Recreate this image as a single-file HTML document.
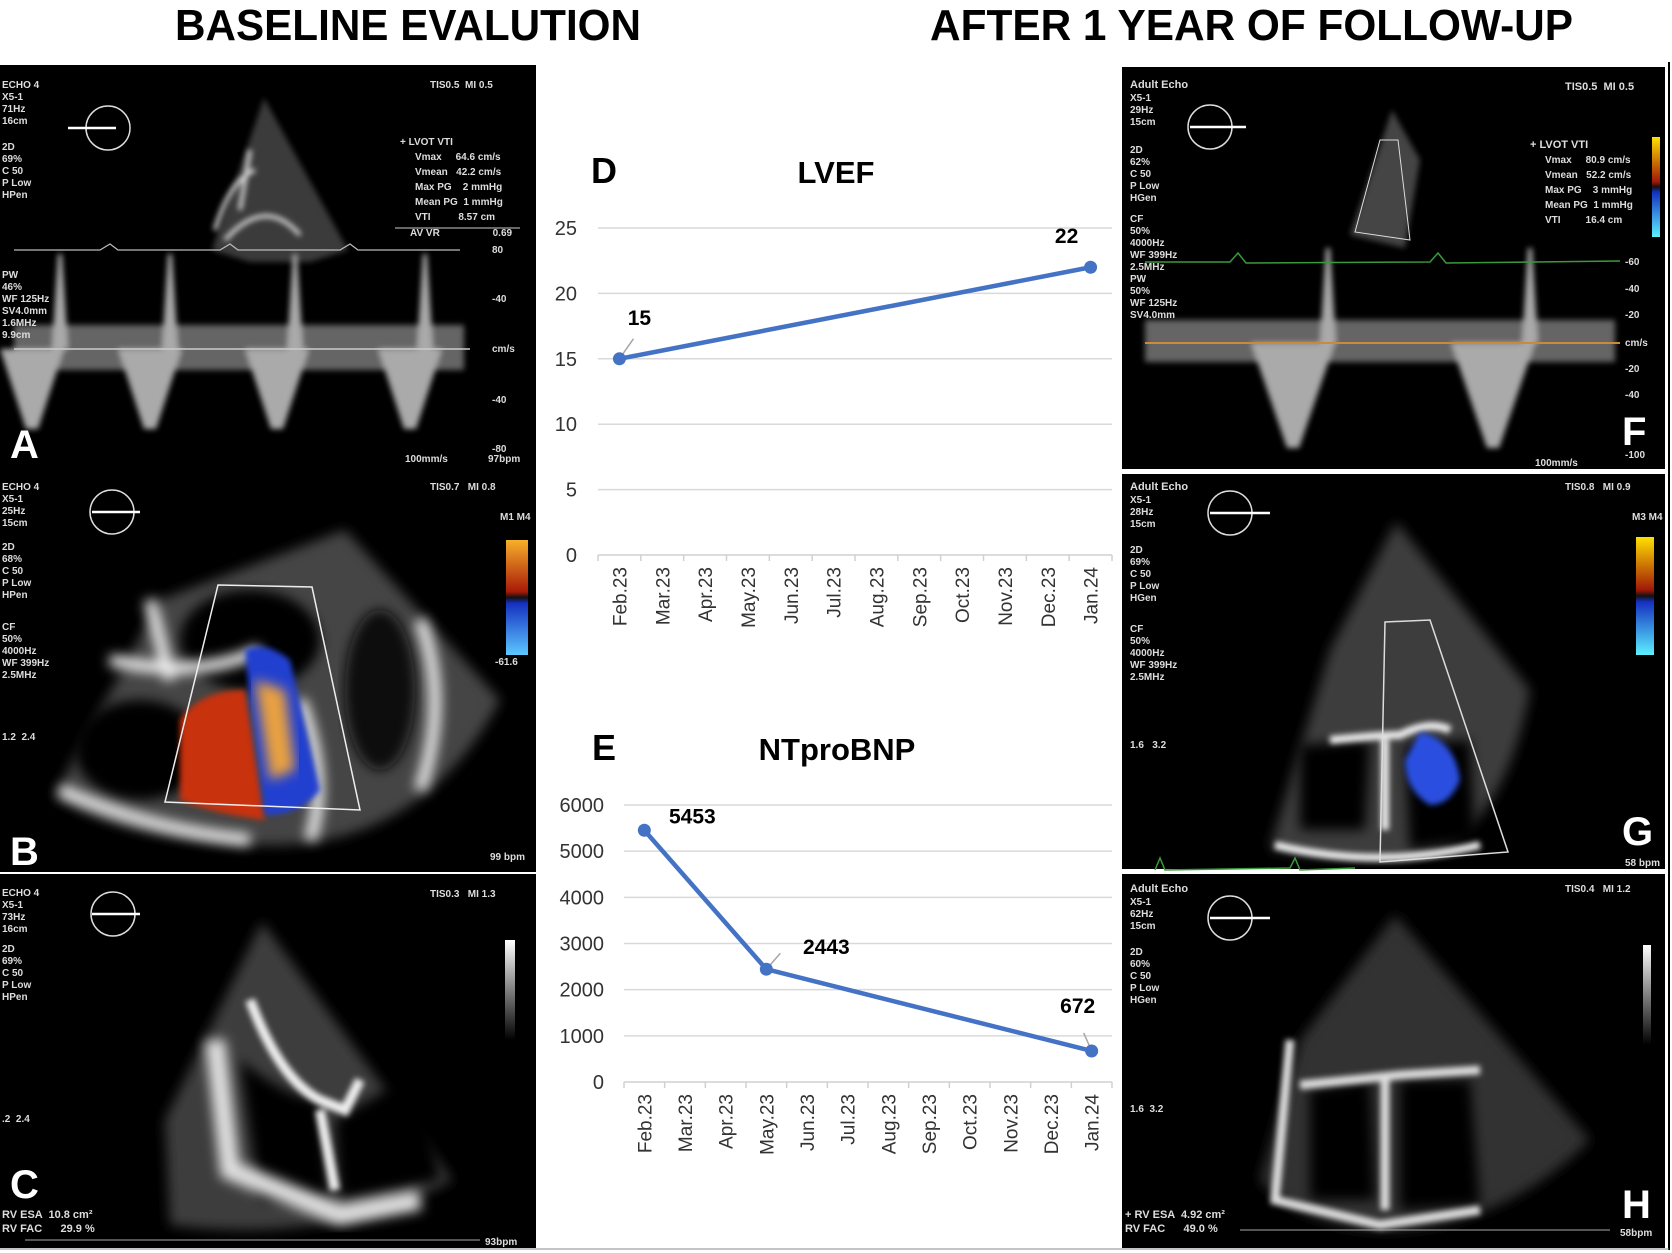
<!DOCTYPE html>
<html><head><meta charset="utf-8"><style>
html,body{margin:0;padding:0;background:#fff}
svg{display:block}
text{font-family:"Liberation Sans",sans-serif;white-space:pre}
</style></head><body>
<svg id="fig" width="1672" height="1253" viewBox="0 0 1672 1253" xmlns="http://www.w3.org/2000/svg" xml:space="preserve">
<defs>
<filter id="blur3"><feGaussianBlur stdDeviation="3"/></filter>
<filter id="blur6"><feGaussianBlur stdDeviation="6"/></filter>
<filter id="blur10"><feGaussianBlur stdDeviation="10"/></filter>
<linearGradient id="cbar1" x1="0" y1="0" x2="0" y2="1"><stop offset="0" stop-color="#f7b02a"/><stop offset="0.45" stop-color="#a81a08"/><stop offset="0.5" stop-color="#111"/><stop offset="0.55" stop-color="#1530c0"/><stop offset="1" stop-color="#5cc8ff"/></linearGradient>
<linearGradient id="cbar2" x1="0" y1="0" x2="0" y2="1"><stop offset="0" stop-color="#ffe000"/><stop offset="0.45" stop-color="#a01808"/><stop offset="0.5" stop-color="#111"/><stop offset="0.55" stop-color="#1530c0"/><stop offset="1" stop-color="#5cf0ff"/></linearGradient>
<linearGradient id="gbar" x1="0" y1="0" x2="0" y2="1"><stop offset="0" stop-color="#fff"/><stop offset="1" stop-color="#000"/></linearGradient>
</defs>
<rect width="1672" height="1253" fill="#fff"/>
<text x="175" y="40" font-size="44" font-weight="bold" textLength="466" lengthAdjust="spacingAndGlyphs">BASELINE EVALUTION</text>
<text x="930" y="40" font-size="44" font-weight="bold" textLength="643" lengthAdjust="spacingAndGlyphs">AFTER 1 YEAR OF FOLLOW-UP</text>

<!-- Panel A -->
<g>
<rect x="0" y="65" width="536" height="405" fill="#000"/>
<polygon points="264,98 212,250 250,262 310,262 348,250" fill="#3a3a3a" filter="url(#blur3)"/>
<path d="M225,240 Q265,195 300,235 M250,150 L240,210 M215,230 Q230,180 255,170" stroke="#ddd" stroke-width="4" fill="none" filter="url(#blur3)"/>
<g id="dopA" fill="#c8c8c8" filter="url(#blur3)" opacity="0.85"></g>
<line x1="14" y1="349" x2="470" y2="349" stroke="#ccc" stroke-width="1.5"/>
<polyline points="14,250 100,250 110,244 118,250 220,250 230,244 238,250 340,250 350,244 358,250 460,250" stroke="#bbb" fill="none" stroke-width="1.2"/>
<circle cx="108" cy="128" r="22" stroke="#ddd" fill="none" stroke-width="1.5"/><line x1="68" y1="128" x2="116" y2="128" stroke="#fff" stroke-width="2.5"/>
<g fill="#ddd" font-size="10" font-weight="bold">
<text x="2" y="88">ECHO 4</text><text x="2" y="100">X5-1</text><text x="2" y="112">71Hz</text><text x="2" y="124">16cm</text>
<text x="2" y="150">2D</text><text x="2" y="162">69%</text><text x="2" y="174">C 50</text><text x="2" y="186">P Low</text><text x="2" y="198">HPen</text>
<text x="2" y="278">PW</text><text x="2" y="290">46%</text><text x="2" y="302">WF 125Hz</text><text x="2" y="314">SV4.0mm</text><text x="2" y="326">1.6MHz</text><text x="2" y="338">9.9cm</text>
<text x="430" y="88">TIS0.5  MI 0.5</text>
<text x="400" y="145">+ LVOT VTI</text>
<text x="415" y="160">Vmax     64.6 cm/s</text><text x="415" y="175">Vmean   42.2 cm/s</text><text x="415" y="190">Max PG    2 mmHg</text><text x="415" y="205">Mean PG  1 mmHg</text><text x="415" y="220">VTI          8.57 cm</text><text x="410" y="236">AV VR                   0.69</text>
<text x="492" y="253">80</text><text x="492" y="302">-40</text><text x="492" y="352">cm/s</text><text x="492" y="403">-40</text><text x="492" y="452">-80</text>
<text x="405" y="462">100mm/s</text><text x="488" y="462">97bpm</text>
</g>
<line x1="395" y1="228" x2="520" y2="228" stroke="#ccc"/>
<text x="10" y="458" fill="#fff" font-size="40" font-weight="bold">A</text>
</g>

<!-- Panel B -->
<g>
<rect x="0" y="470" width="536" height="402" fill="#000"/>
<path d="M345,530 L500,700 Q420,850 260,845 Q120,840 55,795 L160,600 Z" fill="#444" filter="url(#blur6)"/>
<ellipse cx="140" cy="750" rx="65" ry="50" fill="#000" filter="url(#blur6)"/>
<ellipse cx="250" cy="640" rx="70" ry="50" fill="#000" filter="url(#blur6)"/>
<ellipse cx="380" cy="690" rx="35" ry="80" fill="#111" filter="url(#blur6)"/>
<path d="M110,660 Q200,680 260,650 M150,600 L170,680 M300,700 Q330,780 310,840 M60,790 Q150,830 250,840 M420,620 Q450,700 420,790" stroke="#eee" stroke-width="12" fill="none" filter="url(#blur6)"/>
<path d="M180,720 Q200,690 245,690 L265,820 Q220,815 180,800 Z" fill="#c8320c" filter="url(#blur3)"/>
<path d="M245,650 Q265,640 290,660 L320,790 Q300,815 265,815 L250,700 Z" fill="#2240d0" filter="url(#blur3)"/>
<path d="M255,680 L285,690 L295,770 L270,780 Z" fill="#e8a040" filter="url(#blur6)"/>
<polygon points="218,585 312,587 360,810 165,802" stroke="#eee" fill="none" stroke-width="1.5"/>
<rect x="506" y="540" width="22" height="115" fill="url(#cbar1)"/>
<circle cx="112" cy="512" r="22" stroke="#ddd" fill="none" stroke-width="1.5"/><line x1="92" y1="512" x2="140" y2="512" stroke="#fff" stroke-width="2.5"/>
<g fill="#ddd" font-size="10" font-weight="bold">
<text x="2" y="490">ECHO 4</text><text x="2" y="502">X5-1</text><text x="2" y="514">25Hz</text><text x="2" y="526">15cm</text>
<text x="2" y="550">2D</text><text x="2" y="562">68%</text><text x="2" y="574">C 50</text><text x="2" y="586">P Low</text><text x="2" y="598">HPen</text>
<text x="2" y="630">CF</text><text x="2" y="642">50%</text><text x="2" y="654">4000Hz</text><text x="2" y="666">WF 399Hz</text><text x="2" y="678">2.5MHz</text>
<text x="2" y="740">1.2  2.4</text>
<text x="430" y="490">TIS0.7   MI 0.8</text><text x="500" y="520">M1 M4</text><text x="495" y="665">-61.6</text>
<text x="490" y="860">99 bpm</text>
</g>
<text x="10" y="865" fill="#fff" font-size="40" font-weight="bold">B</text>
</g>

<!-- Panel C -->
<g>
<rect x="0" y="874" width="536" height="374" fill="#000"/>
<path d="M262,922 L452,1180 Q330,1245 170,1225 L165,1120 Z" fill="#3c3c3c" filter="url(#blur6)"/>
<path d="M240,1060 Q290,1100 320,1100 L330,1200 L260,1200 Z M335,1120 L420,1070 L440,1180 L340,1200 Z" fill="#000" filter="url(#blur6)"/>
<path d="M250,1000 Q280,1080 320,1100 L345,1110 L360,1080 M320,1110 L335,1190" stroke="#eee" stroke-width="10" fill="none" filter="url(#blur3)"/>
<path d="M215,1040 L230,1170 L340,1215 L420,1200" stroke="#e0e0e0" stroke-width="20" fill="none" filter="url(#blur6)"/>
<rect x="505" y="940" width="10" height="100" fill="url(#gbar)"/>
<circle cx="113" cy="914" r="22" stroke="#ddd" fill="none" stroke-width="1.5"/><line x1="92" y1="914" x2="140" y2="914" stroke="#fff" stroke-width="2.5"/>
<g fill="#ddd" font-size="10" font-weight="bold">
<text x="2" y="896">ECHO 4</text><text x="2" y="908">X5-1</text><text x="2" y="920">73Hz</text><text x="2" y="932">16cm</text>
<text x="2" y="952">2D</text><text x="2" y="964">69%</text><text x="2" y="976">C 50</text><text x="2" y="988">P Low</text><text x="2" y="1000">HPen</text>
<text x="2" y="1122">.2  2.4</text>
<text x="430" y="897">TIS0.3   MI 1.3</text>
<text x="2" y="1218" font-size="11">RV ESA  10.8 cm²</text><text x="2" y="1232" font-size="11">RV FAC      29.9 %</text>
<text x="485" y="1245">93bpm</text>
</g>
<polyline points="25,1240 480,1240" stroke="#aaa" stroke-width="1"/>
<text x="10" y="1198" fill="#fff" font-size="40" font-weight="bold">C</text>
</g>

<!-- Panel F -->
<g>
<rect x="1122" y="67" width="543" height="402" fill="#000"/>
<polygon points="1392,110 1350,235 1405,248 1420,160" fill="#444" filter="url(#blur3)"/>
<polygon points="1380,140 1398,140 1410,240 1355,232" stroke="#ddd" fill="none"/>
<g id="dopF" fill="#c8c8c8" filter="url(#blur3)" opacity="0.85"></g>
<line x1="1145" y1="343" x2="1620" y2="343" stroke="#c98a3a" stroke-width="2"/>
<polyline points="1145,262 1230,262 1238,253 1246,263 1430,262 1438,253 1446,263 1620,261" stroke="#3a9a3a" fill="none" stroke-width="1.5"/>
<circle cx="1210" cy="127" r="22" stroke="#ddd" fill="none" stroke-width="1.5"/><line x1="1190" y1="127" x2="1246" y2="127" stroke="#fff" stroke-width="2.5"/>
<rect x="1652" y="137" width="8" height="100" fill="url(#cbar2)"/>
<g fill="#ddd" font-size="10" font-weight="bold">
<text x="1130" y="88" font-size="11">Adult Echo</text><text x="1130" y="101">X5-1</text><text x="1130" y="113">29Hz</text><text x="1130" y="125">15cm</text>
<text x="1130" y="153">2D</text><text x="1130" y="165">62%</text><text x="1130" y="177">C 50</text><text x="1130" y="189">P Low</text><text x="1130" y="201">HGen</text>
<text x="1130" y="222">CF</text><text x="1130" y="234">50%</text><text x="1130" y="246">4000Hz</text><text x="1130" y="258">WF 399Hz</text><text x="1130" y="270">2.5MHz</text>
<text x="1130" y="282">PW</text><text x="1130" y="294">50%</text><text x="1130" y="306">WF 125Hz</text><text x="1130" y="318">SV4.0mm</text>
<text x="1565" y="90" font-size="11">TIS0.5  MI 0.5</text>
<text x="1530" y="148" font-size="11">+ LVOT VTI</text>
<text x="1545" y="163">Vmax     80.9 cm/s</text><text x="1545" y="178">Vmean   52.2 cm/s</text><text x="1545" y="193">Max PG    3 mmHg</text><text x="1545" y="208">Mean PG  1 mmHg</text><text x="1545" y="223">VTI         16.4 cm</text>
<text x="1625" y="265">-60</text><text x="1625" y="292">-40</text><text x="1625" y="318">-20</text><text x="1625" y="346">cm/s</text><text x="1625" y="372">-20</text><text x="1625" y="398">-40</text><text x="1625" y="458">-100</text>
<text x="1535" y="466">100mm/s</text>
</g>
<text x="1622" y="445" fill="#fff" font-size="40" font-weight="bold">F</text>
</g>

<!-- Panel G -->
<g>
<rect x="1122" y="474" width="543" height="395" fill="#000"/>
<path d="M1396,522 L1530,690 Q1500,850 1400,858 Q1320,860 1270,848 L1330,650 Z" fill="#3c3c3c" filter="url(#blur6)"/>
<path d="M1300,745 L1370,740 L1365,830 L1300,830 Z M1405,745 L1470,740 L1475,840 L1410,850 Z" fill="#000" filter="url(#blur6)"/>
<path d="M1330,740 Q1380,735 1400,735 Q1430,720 1450,730 M1385,740 L1385,830 M1275,845 Q1380,870 1480,845" stroke="#eee" stroke-width="8" fill="none" filter="url(#blur3)"/>
<path d="M1420,732 Q1455,740 1460,780 Q1450,805 1430,805 Q1405,790 1405,760 Z" fill="#2a50e0" filter="url(#blur3)"/>
<polygon points="1385,622 1430,620 1508,852 1380,862" stroke="#ddd" fill="none" stroke-width="1.5"/>
<rect x="1636" y="537" width="18" height="118" fill="url(#cbar2)"/>
<circle cx="1230" cy="513" r="22" stroke="#ddd" fill="none" stroke-width="1.5"/><line x1="1210" y1="513" x2="1270" y2="513" stroke="#fff" stroke-width="2.5"/>
<polyline points="1155,870 1160,858 1165,870 1290,868 1295,858 1300,870 1355,868" stroke="#3a9a3a" fill="none" stroke-width="1.5"/>
<g fill="#ddd" font-size="10" font-weight="bold">
<text x="1130" y="490" font-size="11">Adult Echo</text><text x="1130" y="503">X5-1</text><text x="1130" y="515">28Hz</text><text x="1130" y="527">15cm</text>
<text x="1130" y="553">2D</text><text x="1130" y="565">69%</text><text x="1130" y="577">C 50</text><text x="1130" y="589">P Low</text><text x="1130" y="601">HGen</text>
<text x="1130" y="632">CF</text><text x="1130" y="644">50%</text><text x="1130" y="656">4000Hz</text><text x="1130" y="668">WF 399Hz</text><text x="1130" y="680">2.5MHz</text>
<text x="1130" y="748">1.6   3.2</text>
<text x="1565" y="490">TIS0.8   MI 0.9</text><text x="1632" y="520">M3 M4</text>
<text x="1625" y="866">58 bpm</text>
</g>
<text x="1622" y="845" fill="#fff" font-size="40" font-weight="bold">G</text>
</g>

<!-- Panel H -->
<g>
<rect x="1122" y="874" width="543" height="374" fill="#000"/>
<path d="M1395,915 L1590,1140 Q1500,1230 1380,1230 Q1300,1225 1260,1180 L1300,1040 Z" fill="#333" filter="url(#blur6)"/>
<path d="M1310,1090 L1370,1080 L1375,1200 L1310,1200 Z M1400,1080 L1470,1080 L1480,1205 L1400,1210 Z" fill="#000" filter="url(#blur6)"/>
<path d="M1300,1085 L1400,1075 L1480,1070 M1385,1080 L1385,1210 M1290,1040 L1275,1200 L1380,1225 L1480,1210" stroke="#ddd" stroke-width="9" fill="none" filter="url(#blur3)"/>
<rect x="1643" y="945" width="8" height="100" fill="url(#gbar)"/>
<circle cx="1230" cy="918" r="22" stroke="#ddd" fill="none" stroke-width="1.5"/><line x1="1210" y1="918" x2="1270" y2="918" stroke="#fff" stroke-width="2.5"/>
<g fill="#ddd" font-size="10" font-weight="bold">
<text x="1130" y="892" font-size="11">Adult Echo</text><text x="1130" y="905">X5-1</text><text x="1130" y="917">62Hz</text><text x="1130" y="929">15cm</text>
<text x="1130" y="955">2D</text><text x="1130" y="967">60%</text><text x="1130" y="979">C 50</text><text x="1130" y="991">P Low</text><text x="1130" y="1003">HGen</text>
<text x="1130" y="1112">1.6  3.2</text>
<text x="1565" y="892">TIS0.4   MI 1.2</text>
<text x="1125" y="1218" font-size="11">+ RV ESA  4.92 cm²</text><text x="1125" y="1232" font-size="11">RV FAC      49.0 %</text>
<text x="1620" y="1236">58bpm</text>
</g>
<polyline points="1240,1230 1610,1230" stroke="#aaa"/>
<text x="1622" y="1218" fill="#fff" font-size="40" font-weight="bold">H</text>
</g>
<line x1="1669" y1="62" x2="1669" y2="1250" stroke="#000" stroke-width="2"/>
<line x1="0" y1="1249" x2="1669" y2="1249" stroke="#888" stroke-width="1"/>

<g id="chartD"></g>
<g id="chartE"></g>
</svg>
<script>
const months = ["Feb.23","Mar.23","Apr.23","May.23","Jun.23","Jul.23","Aug.23","Sep.23","Oct.23","Nov.23","Dec.23","Jan.24"];
const lvefIdx = [0, 11];
const lvefVals = [15, 22];
const lvefTicks = [0, 5, 10, 15, 20, 25];
const bnpIdx = [0, 3, 11];
const bnpVals = [5453, 2443, 672];
const bnpTicks = [0, 1000, 2000, 3000, 4000, 5000, 6000];

const NS = "http://www.w3.org/2000/svg";
function mk(tag, attrs, parent, txt){
  const e = document.createElementNS(NS, tag);
  for (const k in attrs) e.setAttribute(k, attrs[k]);
  if (txt !== undefined) e.textContent = txt;
  parent.appendChild(e);
  return e;
}

function doppler(g, base, peaksDown, peaksUp, depth, height, halfW){
  peaksDown.forEach(function(c){
    const p = mk("polygon", {points:(c-halfW)+","+base+" "+(c+halfW)+","+base+" "+(c+6)+","+(base+depth)+" "+(c-6)+","+(base+depth)}, g);
    
    
  });
  peaksUp.forEach(function(c){
    const p = mk("polygon", {points:(c-8)+","+base+" "+(c+8)+","+base+" "+(c+2)+","+(base-height)+" "+(c-2)+","+(base-height)}, g);
    
    
  });
}
const gA = document.getElementById("dopA");
mk("rect", {x:14, y:325, width:450, height:45, fill:"#777"}, gA);
doppler(gA, 349, [32,150,277,410], [60,170,295,425], 80, 95, 32);
const gF = document.getElementById("dopF");
mk("rect", {x:1145, y:320, width:470, height:42, fill:"#777"}, gF);
doppler(gF, 343, [1293,1493], [1328,1530], 105, 95, 42);

function lineChart(cfg){
  const g = document.getElementById(cfg.id);
  const n = months.length;
  const step = (cfg.x1 - cfg.x0) / n;
  const xs = i => cfg.x0 + step * (i + 0.5);
  const ys = v => cfg.yBase - (v / cfg.yMax) * (cfg.yBase - cfg.yTop);
  const t1 = mk("text", {x:cfg.letterX, y:cfg.titleY, "font-size":36, "font-weight":"bold", fill:"#000"}, g, cfg.letter);
  
  
  const t2 = mk("text", {x:cfg.titleX, y:cfg.titleY, "font-size":31, "font-weight":"bold", fill:"#000", "text-anchor":"middle"}, g, cfg.title);
  
  
  cfg.ticks.forEach(function(t){
    const y = ys(t);
    if (t > 0) {
      const gl = mk("line", {x1:cfg.x0, x2:cfg.x1, y1:y, y2:y, stroke:"#d9d9d9", "stroke-width":1.5}, g);
      
      
    }
    const tl = mk("text", {x:cfg.labelX, y:y+7, "font-size":20, fill:"#333", "text-anchor":"end"}, g, String(t));
    
    
  });
  const ax = mk("line", {x1:cfg.x0, x2:cfg.x1, y1:cfg.yBase, y2:cfg.yBase, stroke:"#d0d0d0", "stroke-width":1.5}, g);
  
  
  for (let i = 0; i <= n; i++) {
    const tk = mk("line", {x1:cfg.x0+step*i, x2:cfg.x0+step*i, y1:cfg.yBase, y2:cfg.yBase+6, stroke:"#d0d0d0", "stroke-width":1.5}, g);
    
    
  }
  months.forEach(function(m, i){
    const x = xs(i) + 7, y = cfg.yBase + 12;
    const ml = mk("text", {x:x, y:y, "font-size":19, fill:"#333", "text-anchor":"end", transform:"rotate(-90 "+x+" "+y+")"}, g, m);
    
    
  });
  const pts = cfg.idx.map((k, j) => xs(k) + "," + ys(cfg.vals[j])).join(" ");
  const pl = mk("polyline", {points:pts, fill:"none", stroke:"#4472c4", "stroke-width":4.5, "stroke-linejoin":"round"}, g);
  
  
  cfg.idx.forEach(function(k, j){
    const cx = xs(k), cy = ys(cfg.vals[j]);
    const off = cfg.labelOff[j];
    const ld = mk("line", {x1:cx+off[2], y1:cy+off[3], x2:cx, y2:cy, stroke:"#a6a6a6", "stroke-width":1.5}, g);
    
    
    const c = mk("circle", {cx:cx, cy:cy, r:6.5, fill:"#4472c4"}, g);
    
    
    const lb = mk("text", {x:cx+off[0], y:cy+off[1], "font-size":21, "font-weight":"bold", fill:"#000", "text-anchor":"middle"}, g, String(cfg.vals[j]));
    
    
  });
}
lineChart({id:"chartD", x0:598, x1:1112, yBase:555, yTop:228, yMax:25, ticks:lvefTicks, idx:lvefIdx, vals:lvefVals,
  labelX:577, letter:"D", letterX:591, title:"LVEF", titleX:836, titleY:183,
  labelOff:[[20,-34,14,-20],[-24,-24,-4,-4]]});
lineChart({id:"chartE", x0:624, x1:1112, yBase:1082, yTop:805, yMax:6000, ticks:bnpTicks, idx:bnpIdx, vals:bnpVals,
  labelX:604, letter:"E", letterX:592, title:"NTproBNP", titleX:837, titleY:760,
  labelOff:[[48,-7,0,0],[60,-15,14,-16],[-14,-38,-8,-18]]});
</script>
</body></html>
